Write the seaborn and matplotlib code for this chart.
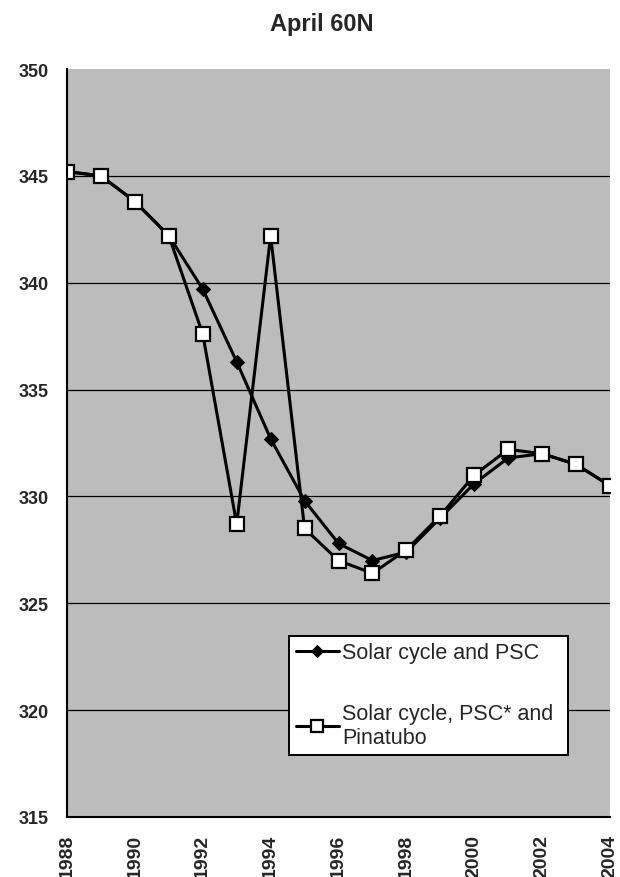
import matplotlib
matplotlib.use("Agg")
import matplotlib.pyplot as plt
import seaborn as sns
import pandas as pd
from matplotlib.ticker import MultipleLocator

years = list(range(1988, 2005))
solar_psc = [345.2, 345.0, 343.8, 342.2, 339.7, 336.3, 332.7, 329.8, 327.8,
             327.0, 327.4, 329.0, 330.6, 331.8, 332.0, 331.5, 330.5]
solar_psc_pinatubo = [345.2, 345.0, 343.8, 342.2, 337.6, 328.7, 342.2, 328.5, 327.0,
                      326.4, 327.5, 329.1, 331.0, 332.2, 332.0, 331.5, 330.5]
label_a = "Solar cycle and PSC"
label_b = "Solar cycle, PSC* and\nPinatubo"

sns.set_style("white")
plt.rcParams['font.family'] = ['Liberation Sans', 'DejaVu Sans']

df = pd.DataFrame({'year': years, 'a': solar_psc, 'b': solar_psc_pinatubo})

fig = plt.figure(figsize=(6.2, 8.78), dpi=100)
ax = fig.add_axes([67 / 620, 60 / 878, 543 / 620, 748 / 878])
ax.set_facecolor('#bcbcbc')

sns.lineplot(data=df, x='year', y='a', ax=ax, color='black', linewidth=2.2,
             marker='D', markersize=7.5, markerfacecolor='black',
             markeredgecolor='black', label=label_a)
sns.lineplot(data=df, x='year', y='b', ax=ax, color='black', linewidth=2.2,
             marker='s', markersize=9.5, markerfacecolor='white',
             markeredgecolor='black', markeredgewidth=1.6, label=label_b)

ax.set_xlim(1988, 2004)
ax.set_ylim(315, 350)
ax.set_yticks(range(315, 351, 5))
ax.xaxis.set_major_locator(MultipleLocator(2))
ax.xaxis.set_minor_locator(MultipleLocator(1))
ax.set_xticklabels([str(int(t)) for t in ax.get_xticks()])
for g in range(320, 350, 5):
    ax.axhline(g, color='black', linewidth=0.9, zorder=1)

ax.tick_params(axis='x', which='major', direction='inout', length=8, width=1.2,
               labelsize=14, labelrotation=90, pad=8)
ax.tick_params(axis='x', which='minor', direction='inout', length=8, width=1.2)
ax.tick_params(axis='y', direction='out', length=6, width=1.2, labelsize=13, pad=7)
for lab in ax.get_xticklabels() + ax.get_yticklabels():
    lab.set_fontweight('bold')

for s in ['top', 'right']:
    ax.spines[s].set_visible(False)
for s in ['left', 'bottom']:
    ax.spines[s].set_color('black')
    ax.spines[s].set_linewidth(1.5)

ax.set_xlabel('')
ax.set_ylabel('')
fig.text(322 / 620, 1 - 25 / 878, 'April 60N', ha='center', va='center',
         fontsize=17, fontweight='bold')

leg = ax.legend(loc='upper left', bbox_to_anchor=(0.409, 0.242, 0.514, 0),
                mode='expand', frameon=True, fancybox=False, fontsize=15.5,
                handlelength=2.0, handletextpad=0.15, borderpad=0.3,
                labelspacing=1.85, borderaxespad=0, markerscale=0.85)
leg.get_frame().set_edgecolor('black')
leg.get_frame().set_linewidth(1.4)
leg.get_frame().set_facecolor('white')
leg.get_frame().set_alpha(1)

fig.savefig('out.png', dpi=100)
